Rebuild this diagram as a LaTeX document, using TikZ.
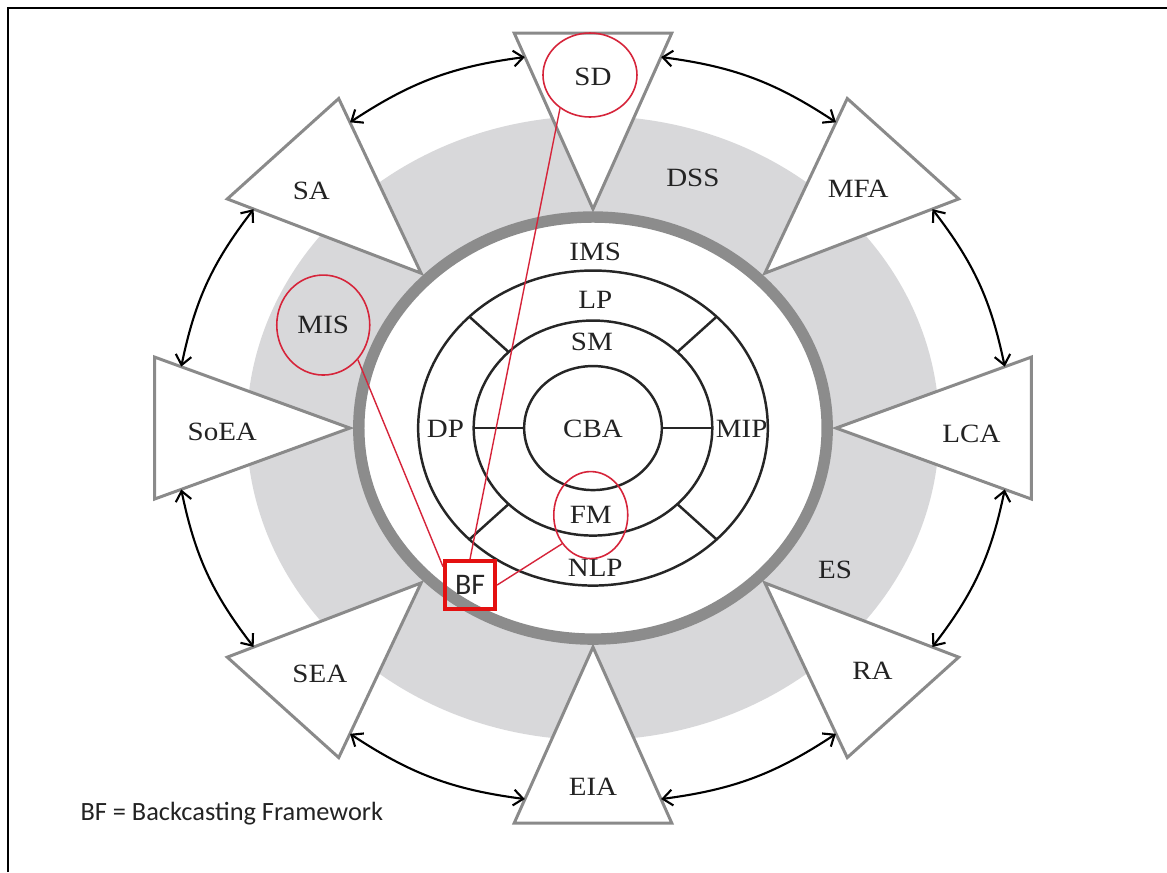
\documentclass[tikz,border=0pt]{standalone}
\usepackage{fontspec}
\setmainfont{Liberation Serif}[FakeStretch=1.1]
\newfontfamily\legendfont{Carlito}
\usetikzlibrary{shapes.geometric, arrows.meta}

\definecolor{ringgray}{RGB}{140,140,140}
\definecolor{bandgray}{RGB}{216,216,218}
\definecolor{edgegray}{RGB}{138,138,138}
\definecolor{textgray}{RGB}{35,35,35}
\definecolor{markred}{RGB}{214,36,58}
\definecolor{boxred}{RGB}{228,16,16}

\tikzset{
  tri/.style={draw=edgegray, fill=white, line width=1.7pt},
  lbl/.style={font=\fontsize{15}{17}\selectfont, text=textgray, inner sep=1pt},
  link/.style={<->, >={Straight Barb[length=5.5pt,width=9pt]}, line width=1.2pt},
  ring/.style={draw=black!85, line width=1.4pt},
  redring/.style={ellipse, draw=markred, line width=0.9pt, inner sep=0pt},
  redline/.style={draw=markred, line width=0.8pt},
  bfbox/.style={draw=boxred, line width=2.3pt, minimum width=1cm, minimum height=0.96cm,
    inner sep=0pt, font=\legendfont\fontsize{17}{19}\selectfont, text=black!85},
}

\begin{document}
\begin{tikzpicture}[x=0.0222cm, y=0.02cm]
\useasboundingbox (-534.23,-444) rectangle (517.12,428);
% frame lines
\draw[line width=1.2pt] (-527,-444) -- (-527,420) -- (517.12,420);

% grey band and thick ring
\fill[bandgray] (0,0) circle (312);
\draw[ringgray, line width=6.5pt, fill=white] (0,0) circle (211);

% outer triangles
\foreach \a/\pos/\lab/\nm in {90/{90:351}/SD/sd, 45/{45:338}/MFA/mfa, 0/{-1:341}/LCA/lca,
    -45/{-44:350}/RA/ra, -90/{-90:359}/EIA/eia, -135/{-135:348}/SEA/sea,
    180/{180.7:334}/SoEA/soea, 135/{137:347}/SA/sa} {
  \draw[tri] (\a:219) -- (\a+10.19:401.3) -- (\a-10.19:401.3) -- cycle;
  \node[lbl] (\nm) at (\pos) {\lab};
  \coordinate (\nm-l) at (\a+9.4:376);
  \coordinate (\nm-r) at (\a-9.4:376);
}

% arrows between neighbours
\draw[link] (sd-r) to[bend left=13] (mfa-l);
\draw[link] (mfa-r) to[bend left=13] (lca-l);
\draw[link] (lca-r) to[bend left=13] (ra-l);
\draw[link] (ra-r) to[bend left=13] (eia-l);
\draw[link] (eia-r) to[bend left=13] (sea-l);
\draw[link] (sea-r) to[bend left=13] (soea-l);
\draw[link] (soea-r) to[bend left=13] (sa-l);
\draw[link] (sa-r) to[bend left=13] (sd-l);

\node[lbl] (dss) at (90,250) {DSS};
\node[lbl] (es) at (218,-142) {ES};

% inner circles
\draw[ring] (0,0) circle (157.5) (0,0) circle (107.5) (0,0) circle (62);
\foreach \a in {0,180}
  \draw[ring] (\a:62) -- (\a:107.5);
\foreach \a in {45,135,-45,-135}
  \draw[ring] (\a:107.5) -- (\a:157.5);

\node[lbl] (ims) at (2,176) {IMS};
\node[lbl] (lp) at (2,128) {LP};
\node[lbl] (sm) at (-1,86) {SM};
\node[lbl] (cba) at (0,-1) {CBA};
\node[lbl] (dp) at (-133,-1) {DP};
\node[lbl] (mip) at (134,-1) {MIP};
\node[lbl] (nlp) at (2,-140) {NLP};

% red marks
\node[redring, minimum width=1.88cm, minimum height=1.68cm] (sdring) at (-2.7,353) {};
\node[lbl, redring, minimum width=1.86cm, minimum height=2cm] (mis) at (-243,103) {MIS};
\node[lbl, redring, minimum width=1.48cm, minimum height=1.74cm] (fm) at (-2,-87) {FM};
\node[bfbox] (bf) at (-110.8,-157) {BF};

\draw[redline] (sdring.-132) -- (bf.north);
\draw[redline] (mis.-45) -- ([yshift=-0.15cm]bf.north west);
\draw[redline] (fm.-135) -- (bf.east);

\node[anchor=west, inner sep=0pt, font=\legendfont\fontsize{15}{17}\selectfont, text=textgray]
  (legend) at (-462,-385) {BF = Backcasting Framework};
\end{tikzpicture}
\end{document}
